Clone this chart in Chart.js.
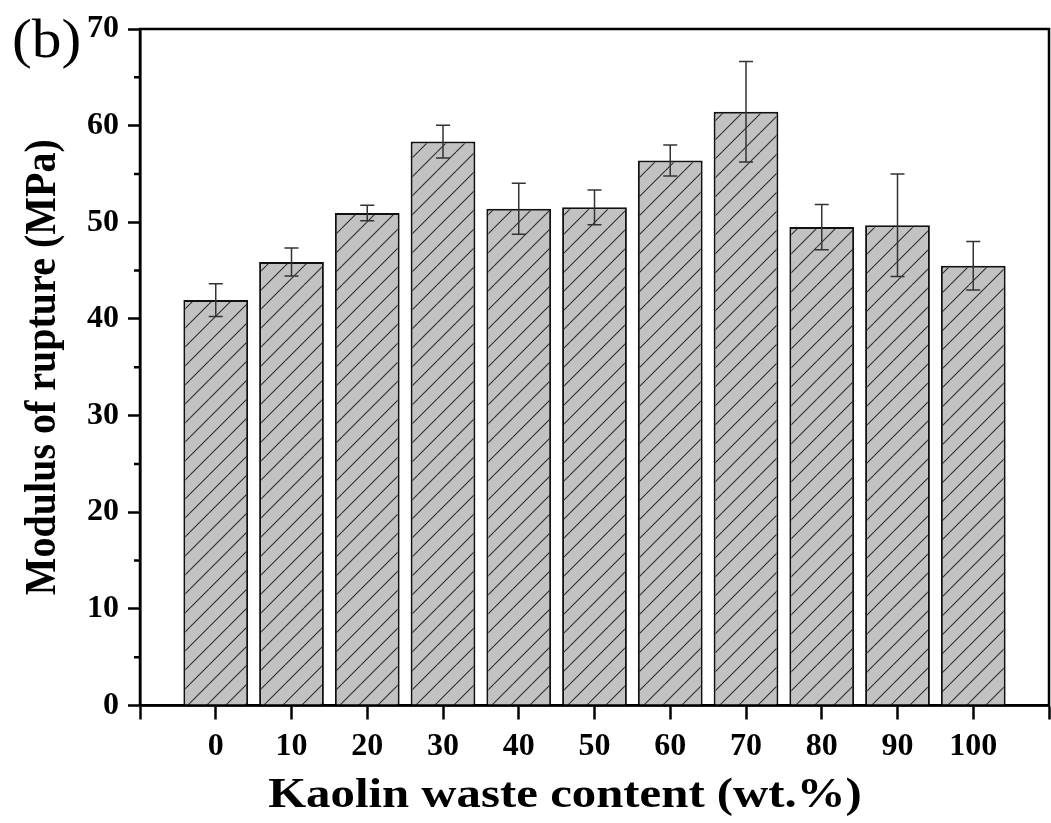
<!DOCTYPE html>
<html>
<head>
<meta charset="utf-8">
<script src="https://cdn.jsdelivr.net/npm/chart.js@4.4.1/dist/chart.umd.min.js"></script>
<style>
  html, body { margin: 0; padding: 0; background: #ffffff; }
  canvas { display: block; }
</style>
</head>
<body>
<canvas id="chart" width="1051" height="823"></canvas>
<script>
// Kaolin waste content (wt.%) for each sample
const kaolinContent = [0, 10, 20, 30, 40, 50, 60, 70, 80, 90, 100];
// Modulus of rupture (MPa), mean values
const ruptureModulus = [41.95, 45.9, 50.95, 58.35, 51.4, 51.55, 56.4, 61.45, 49.5, 49.7, 45.5];
// Standard deviation of each mean (MPa)
const ruptureError = [1.7, 1.45, 0.8, 1.7, 2.65, 1.8, 1.6, 5.2, 2.35, 5.3, 2.5];
// Axis ranges and labels
const xRange = [-10, 110];
const yRange = [0, 70];
const yMinorTicks = [5, 15, 25, 35, 45, 55, 65];
const panelLabel = '(b)';
const xTitle = 'Kaolin waste content (wt.%)';
const yTitle = 'Modulus of rupture (MPa)';

const SERIF = '"Liberation Serif", "Times New Roman", serif';
const canvas = document.getElementById('chart');
const ctx2d = canvas.getContext('2d');

// Grey fill with "///" hatching for the bars
function makeHatch(ctx) {
  const s = 19;
  const c = document.createElement('canvas');
  c.width = s; c.height = s;
  const g = c.getContext('2d');
  g.fillStyle = '#c2c2c2';
  g.fillRect(0, 0, s, s);
  g.strokeStyle = '#2e2e2e';
  g.lineWidth = 1.1;
  g.beginPath();
  for (const k of [-s, 0, s]) {
    g.moveTo(k, s);
    g.lineTo(k + s, 0);
  }
  g.stroke();
  return ctx.createPattern(c, 'repeat');
}

const points = kaolinContent.map((x, i) => ({ x: x, y: ruptureModulus[i] }));

// Frame, minor ticks, error bars and text
const decorations = {
  id: 'decorations',
  afterDatasetsDraw(chart) {
    const ctx = chart.ctx;
    const xs = chart.scales.x, ys = chart.scales.y;
    ctx.save();
    ctx.strokeStyle = '#333333';
    ctx.lineWidth = 1.5;
    const cap = 7;
    kaolinContent.forEach((x, i) => {
      const px = xs.getPixelForValue(x);
      const top = ys.getPixelForValue(ruptureModulus[i] + ruptureError[i]);
      const bot = ys.getPixelForValue(ruptureModulus[i] - ruptureError[i]);
      ctx.beginPath();
      ctx.moveTo(px, top); ctx.lineTo(px, bot);
      ctx.moveTo(px - cap, top); ctx.lineTo(px + cap, top);
      ctx.moveTo(px - cap, bot); ctx.lineTo(px + cap, bot);
      ctx.stroke();
    });
    ctx.restore();
  },
  afterDraw(chart) {
    const ctx = chart.ctx;
    const a = chart.chartArea;
    const ys = chart.scales.y;
    ctx.save();
    ctx.strokeStyle = '#000000';
    ctx.lineWidth = 2.5;
    ctx.strokeRect(a.left, a.top, a.right - a.left, a.bottom - a.top);
    // minor y ticks
    ctx.beginPath();
    yMinorTicks.forEach(v => {
      const py = ys.getPixelForValue(v);
      ctx.moveTo(a.left, py);
      ctx.lineTo(a.left - 6, py);
    });
    ctx.stroke();

    ctx.fillStyle = '#000000';
    // panel label
    ctx.save();
    ctx.translate(12, 57);
    ctx.scale(1.08, 1);
    ctx.font = '55px ' + SERIF;
    ctx.textAlign = 'left';
    ctx.textBaseline = 'alphabetic';
    ctx.fillText(panelLabel, 0, 0);
    ctx.restore();

    // x axis title
    ctx.save();
    ctx.translate(565, 807);
    ctx.scale(1.135, 1);
    ctx.font = 'bold 43px ' + SERIF;
    ctx.textAlign = 'center';
    ctx.textBaseline = 'alphabetic';
    ctx.fillText(xTitle, 0, 0);
    ctx.restore();

    // y axis title
    ctx.save();
    ctx.translate(43, (a.top + a.bottom) / 2);
    ctx.scale(1.13, 1);
    ctx.rotate(-Math.PI / 2);
    ctx.font = 'bold 40px ' + SERIF;
    ctx.textAlign = 'center';
    ctx.textBaseline = 'middle';
    ctx.fillText(yTitle, 0, 0);
    ctx.restore();

    ctx.restore();
  }
};

new Chart(ctx2d, {
  type: 'bar',
  data: {
    datasets: [{
      data: points,
      backgroundColor: makeHatch(ctx2d),
      borderColor: '#111111',
      borderWidth: 2,
      categoryPercentage: 1.0,
      barPercentage: 0.855
    }]
  },
  options: {
    responsive: false,
    animation: false,
    events: [],
    layout: { padding: { top: 29, right: 2, left: 0, bottom: 0 } },
    plugins: {
      legend: { display: false },
      tooltip: { enabled: false },
      title: { display: false }
    },
    scales: {
      x: {
        type: 'linear',
        offset: false,
        min: xRange[0],
        max: xRange[1],
        afterFit(scale) {
          scale.height = 117.5;
          scale.paddingLeft = 0;
          scale.paddingRight = 0;
        },
        grid: {
          offset: false,
          drawOnChartArea: false,
          drawTicks: true,
          tickLength: 14,
          tickWidth: 2.5,
          tickColor: '#000000'
        },
        border: { display: true, color: '#000000', width: 2.5 },
        ticks: {
          stepSize: 10,
          autoSkip: false,
          maxRotation: 0,
          padding: 8,
          color: '#000000',
          font: { family: SERIF, size: 32, weight: 'bold' },
          callback: v => (v >= 0 && v <= 100) ? String(v) : ''
        }
      },
      y: {
        type: 'linear',
        min: yRange[0],
        max: yRange[1],
        afterFit(scale) {
          scale.width = 140;
          scale.paddingTop = 0;
          scale.paddingBottom = 0;
        },
        grid: {
          drawOnChartArea: false,
          drawTicks: true,
          tickLength: 12,
          tickWidth: 2.5,
          tickColor: '#000000'
        },
        border: { display: true, color: '#000000', width: 2.5 },
        ticks: {
          stepSize: 10,
          padding: 9,
          color: '#000000',
          font: { family: SERIF, size: 32, weight: 'bold' }
        }
      }
    }
  },
  plugins: [decorations]
});
</script>
</body>
</html>
